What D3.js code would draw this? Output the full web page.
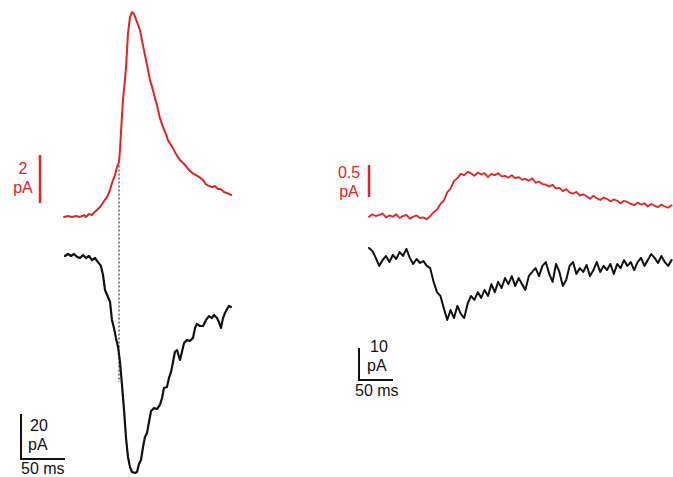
<!DOCTYPE html>
<html><head><meta charset="utf-8">
<script src="https://cdn.jsdelivr.net/npm/d3@7"></script>
<style>body{margin:0;background:#fff}svg{display:block}text{font-family:"Liberation Sans",Arial,sans-serif;font-size:16px}</style>
</head><body>
<svg id="c" width="673" height="477"></svg>
<script>
// Left panel (ms, pA)
const leftRedT = [0,4.5,9,13.6,18,22.7,25,28.4,31.8,35,41,45.5,48.9,52.3,54.5,58,60.2,62.5,63.6,65.9,67,69.3,70.5,72.7,75,77.3,79.5,83,86.4,89.8,94.3,97.7,101,105.7,109,112.5,116,118,122.7,127,131.8,136.4,140.9,145.5,150,154.5,158,161,164.8,168,171.6,175,178,181.8,185,189.8];
const leftRedI = [-0.04,0,-0.04,0,-0.04,0.04,-0.04,0.08,0.04,0.17,0.375,0.625,0.79,1.08,1.375,1.71,2.04,2.25,2.75,4.2,4.83,5.67,6.2,7.6,8.3,8.5,8.42,8.08,7.75,7.1,6.3,5.67,5.25,4.6,4.08,3.7,3.4,3.17,2.9,2.6,2.33,2.17,1.96,1.8,1.7,1.6,1.5,1.33,1.25,1.2,1.25,1.125,1.125,1.0,0.96,0.875];
const leftBlackT = [1.1,4.5,8,11.4,14.8,18.2,21.6,25,28.4,31.8,35.2,38.6,42,44.3,46.6,50,52.3,54.5,56.8,59,61.4,63.6,65.9,68.2,70.5,72.7,75,77.3,80.7,83,85.2,87.5,89.8,92,94.3,96.6,98.9,102.3,105.7,109,111.4,113.6,117,119.3,121.6,123.9,126,128.4,131.8,134,136.4,139.8,143,146.6,148.9,151,154.5,158,161.4,164.8,168,170.5,173.9,176,178.4,180.7,183,185.2,187.5,189.8];
const leftBlackI = [0,0.9,0,0.9,-0.4,-0.9,0.4,-0.9,0,-1.8,-0.9,-2.7,-4.4,-8.4,-15.1,-18.2,-20.4,-28.4,-32,-36.4,-40.4,-47.1,-57.3,-68.4,-80.9,-89.3,-93.8,-96,-96.4,-96,-92.4,-90.7,-84.9,-80.4,-78.7,-73.8,-68.9,-67.6,-68,-66.2,-63.1,-58.7,-58.2,-54.2,-51.6,-47.1,-42.7,-41.8,-46.2,-42.7,-38.7,-37.3,-37.8,-36.4,-32,-30.2,-31.1,-31.1,-28.4,-26.7,-27.6,-26.2,-27.6,-29.3,-32,-27.6,-25.3,-23.6,-22.2,-22.7];
const markerT = 62.5, markerBottomI = -56;

// Right panel, sampled every 5 ms
const rightT = d3.range(0, 450, 5);
const rightRedI = [0.02,0.06,0.03,0.05,0.07,0.01,0.04,0.02,0.06,0.00,0.03,0.05,-0.01,0.02,0.04,0.00,0.01,-0.02,
  0.03,0.09,0.13,0.22,0.27,0.40,0.46,0.58,0.62,0.69,
  0.67,0.72,0.70,0.66,0.71,0.68,0.70,0.64,0.69,0.67,
  0.70,0.65,0.66,0.63,0.67,0.62,0.64,0.60,0.61,0.58,
  0.62,0.55,0.57,0.53,0.52,0.49,0.52,0.46,0.47,0.42,
  0.45,0.40,0.38,0.41,0.35,0.37,0.34,0.30,0.35,0.31,
  0.28,0.32,0.30,0.26,0.29,0.27,0.23,0.27,0.25,0.22,
  0.20,0.24,0.21,0.23,0.18,0.22,0.19,0.17,0.21,0.18,
  0.16,0.20];
const rightBlackI = [2.2,1.25,-0.9,-3.4,-1.6,-0.3,-2.2,0,-1.25,0.9,-0.3,1.9,-0.9,-2.8,-1.25,-2.5,-1.9,-3.4,-4.1,-8.4,-11.6,-12.8,-16.6,-20.3,-17.2,-19.7,-15.9,-18.4,-19.7,-15.3,-12.8,-14,-11.6,-13.4,-10.9,-12.8,-9.1,-11.6,-8.4,-10.3,-7.2,-9.1,-6.6,-9.7,-7.2,-9.1,-10.9,-6.6,-5.3,-4.1,-6.6,-3.4,-2.2,-5.9,-8.4,-2.8,-5.3,-9.7,-7.8,-3.4,-2.2,-5.9,-4.1,-5.3,-3.1,-6.6,-4.7,-2.2,-5.3,-3.4,-4.7,-2.8,-5.9,-2.8,-4.1,-1.6,-3.4,-2.2,-4.7,-2.2,-0.9,-3.4,-1.6,0.3,-0.9,-2.5,-0.3,-2.2,-3.4,-1.6];

// Scale bar labels
const scaleLabels = {lRed:["2","pA"], lBlack:["20","pA","50 ms"], rRed:["0.5","pA"], rBlack:["10","pA","50 ms"]};
const scaleVals = {lRed:2, lBlack:20, lTime:50, rRed:0.5, rBlack:10, rTime:50};

const RED = "#e32222", BLACK = "#111";
const svg = d3.select("#c");

// scales
const xL = d3.scaleLinear().domain([0, 50]).range([64, 108]);
const yLR = d3.scaleLinear().domain([0, 2]).range([216, 168]);
const yLB = d3.scaleLinear().domain([0, -20]).range([256, 301]);
const xR = d3.scaleLinear().domain([0, 50]).range([369, 403]);
const yRR = d3.scaleLinear().domain([0, 0.5]).range([218, 186]);
const yRB = d3.scaleLinear().domain([0, -10]).range([255, 287]);

function trace(ts, vs, x, y, color, w) {
  const line = d3.line().x((d,i)=>x(ts[i])).y(d=>y(d)).curve(d3.curveLinear);
  svg.append("path").attr("d", line(vs)).attr("fill","none").attr("stroke",color)
    .attr("stroke-width",w).attr("stroke-linejoin","round").attr("stroke-linecap","round");
}

// dotted marker
svg.append("line").attr("x1", xL(markerT)).attr("x2", xL(markerT))
  .attr("y1", yLR(2.1)).attr("y2", yLB(markerBottomI))
  .attr("stroke","#444").attr("stroke-width",1.3).attr("stroke-dasharray","2,2");

trace(leftRedT, leftRedI, xL, yLR, RED, 2);
trace(leftBlackT, leftBlackI, xL, yLB, BLACK, 2.2);
trace(rightT, rightRedI, xR, yRR, RED, 1.8);
trace(rightT, rightBlackI, xR, yRB, BLACK, 2);

function label(x, y, txt, color, anchor) {
  svg.append("text").attr("x",x).attr("y",y).attr("text-anchor",anchor||"start").attr("fill",color).text(txt);
}

// Left red scale bar
const lrLen = yLR(0) - yLR(scaleVals.lRed);
svg.append("line").attr("x1",40).attr("x2",40).attr("y1",155).attr("y2",155+lrLen).attr("stroke",RED).attr("stroke-width",2.5);
label(23, 174, scaleLabels.lRed[0], RED, "middle");
label(23, 193, scaleLabels.lRed[1], RED, "middle");

// Left black scale bar
const lbLen = yLB(-scaleVals.lBlack) - yLB(0), ltLen = xL(scaleVals.lTime) - xL(0);
svg.append("path").attr("d", `M21,${459-lbLen}V459H${21+ltLen}`).attr("fill","none").attr("stroke",BLACK).attr("stroke-width",2);
label(30, 431, scaleLabels.lBlack[0], BLACK);
label(28, 450, scaleLabels.lBlack[1], BLACK);
label(21, 474, scaleLabels.lBlack[2], BLACK);

// Right red scale bar
const rrLen = yRR(0) - yRR(scaleVals.rRed);
svg.append("line").attr("x1",369).attr("x2",369).attr("y1",165).attr("y2",165+rrLen).attr("stroke",RED).attr("stroke-width",2.5);
label(349, 178, scaleLabels.rRed[0], RED, "middle");
label(349, 197, scaleLabels.rRed[1], RED, "middle");

// Right black scale bar
const rbLen = yRB(-scaleVals.rBlack) - yRB(0), rtLen = xR(scaleVals.rTime) - xR(0);
svg.append("path").attr("d", `M359,${380-rbLen}V380H${359+rtLen}`).attr("fill","none").attr("stroke",BLACK).attr("stroke-width",2);
label(370, 352, scaleLabels.rBlack[0], BLACK);
label(367, 371, scaleLabels.rBlack[1], BLACK);
label(355, 396, scaleLabels.rBlack[2], BLACK);
</script>
</body></html>
